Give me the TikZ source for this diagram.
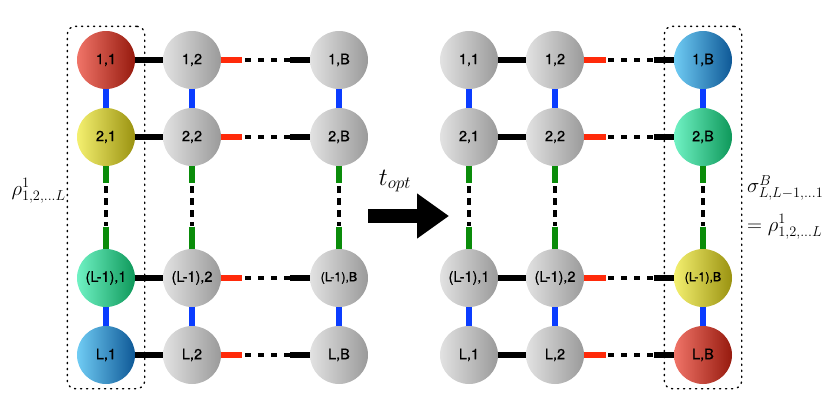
\documentclass[tikz,border=0pt]{standalone}
\usepackage{fontspec}
\setmainfont{TeX Gyre Heros}
\newfontfamily\sitefont[FakeBold=0.6]{TeX Gyre Heros}
\usetikzlibrary{arrows.meta, positioning, fit, calc}
\definecolor{redL}{HTML}{F07468}
\definecolor{redD}{HTML}{961A0E}
\definecolor{yelL}{HTML}{F4F070}
\definecolor{yelD}{HTML}{9A9210}
\definecolor{grnL}{HTML}{70F2C4}
\definecolor{grnD}{HTML}{0E985A}
\definecolor{bluL}{HTML}{70CCF4}
\definecolor{bluD}{HTML}{0E5896}
\definecolor{gryL}{HTML}{E2E2E2}
\definecolor{gryD}{HTML}{9A9A9A}
\definecolor{vblue}{HTML}{0A3CFF}
\definecolor{vgreen}{HTML}{0A8C0A}
\definecolor{hred}{HTML}{FF2A0A}
\tikzset{
  site/.style={circle, minimum size=58pt, inner sep=0pt,
               font=\sitefont\fontsize{14.5}{16}\selectfont},
  bond/.style={line width=5.5pt},
  gapbond/.style={line width=3.5pt, dash pattern=on 6pt off 7pt},
  vgap/.style={line width=3.5pt, dash pattern=on 7pt off 5pt},
  selbox/.style={draw, line width=1.4pt, dash pattern=on 1.2pt off 4.8pt,
                 line cap=round, rounded corners=8pt, inner xsep=9.5pt,
                 inner ysep=4.5pt},
  lbl/.style={font=\fontsize{20}{22}\selectfont, inner sep=1pt},
}

\begin{document}
\begin{tikzpicture}[x=1pt, y=-1pt]
  \useasboundingbox (0,0) rectangle (830,415);
  % left lattice: first column coloured
  \foreach \r/\y/\lab/\cl/\bsz in {1/60/1/red/14.5, 2/137/2/yel/14.5,
                                   3/278/{(L-1)}/grn/12.5, 4/355/L/blu/14.5} {
    \node[site, left color=\cl L, right color=\cl D] (a-\r-1) at (106,\y) {\lab,1};
    \node[site, left color=gryL, right color=gryD] (a-\r-2) at (192,\y) {\lab,2};
    \node[site, left color=gryL, right color=gryD, font=\sitefont\fontsize{\bsz}{16}\selectfont]
      (a-\r-3) at (339,\y) {\lab,B};
  }
  % right lattice: last column coloured
  \foreach \r/\y/\lab/\cl/\bsz in {1/60/1/blu/14.5, 2/137/2/grn/14.5,
                                   3/278/{(L-1)}/yel/12.5, 4/355/L/red/14.5} {
    \node[site, left color=gryL, right color=gryD] (b-\r-1) at (469,\y) {\lab,1};
    \node[site, left color=gryL, right color=gryD] (b-\r-2) at (555,\y) {\lab,2};
    \node[site, left color=\cl L, right color=\cl D, font=\sitefont\fontsize{\bsz}{16}\selectfont]
      (b-\r-3) at (703,\y) {\lab,B};
  }
  % horizontal bonds
  \foreach \g in {a, b} {
    \foreach \r in {1,...,4} {
      \draw[bond] (\g-\r-1) -- (\g-\r-2);
      \draw[bond, hred] (\g-\r-2.east) -- ($(\g-\r-2.east)!0.24!(\g-\r-3.west)$);
      \draw[gapbond] ($(\g-\r-2.east)!0.27!(\g-\r-3.west)$)
        -- ($(\g-\r-2.east)!0.78!(\g-\r-3.west)$);
      \draw[bond] ($(\g-\r-2.east)!0.78!(\g-\r-3.west)$) -- (\g-\r-3.west);
    }
    % vertical bonds
    \foreach \c in {1,2,3} {
      \draw[bond, vblue] (\g-1-\c) -- (\g-2-\c);
      \draw[bond, vblue] (\g-3-\c) -- (\g-4-\c);
      \draw[bond, vgreen] (\g-2-\c.south) -- ($(\g-2-\c.south)!0.2!(\g-3-\c.north)$);
      \draw[vgap] ($(\g-2-\c.south)!0.24!(\g-3-\c.north)$)
        -- ($(\g-2-\c.south)!0.72!(\g-3-\c.north)$);
      \draw[bond, vgreen] ($(\g-2-\c.south)!0.73!(\g-3-\c.north)$) -- (\g-3-\c.north);
    }
  }
  % selected columns
  \node[selbox, fit=(a-1-1)(a-4-1)] (selA) {};
  \node[selbox, fit=(b-1-3)(b-4-3)] (selB) {};
  \node[lbl, anchor=east] (rhoA) at (67,191) {$\rho^{1}_{1,2,\ldots L}$};
  \node[lbl, anchor=west] (sigB) at (746,188) {$\sigma^{B}_{L,L-1,\ldots 1}$};
  \node[lbl, anchor=west] (rhoB) at (746,227) {$=\rho^{1}_{1,2,\ldots L}$};
  % time evolution arrow
  \coordinate (arr-s) at (368,216);
  \coordinate (arr-e) at (449,216);
  \draw[line width=14pt, -{Triangle[length=32pt, width=43pt]}] (arr-s) -- (arr-e);
  \node[font=\fontsize{27}{29}\selectfont] (topt) at (395,181) {$t_{opt}$};
\end{tikzpicture}
\end{document}
